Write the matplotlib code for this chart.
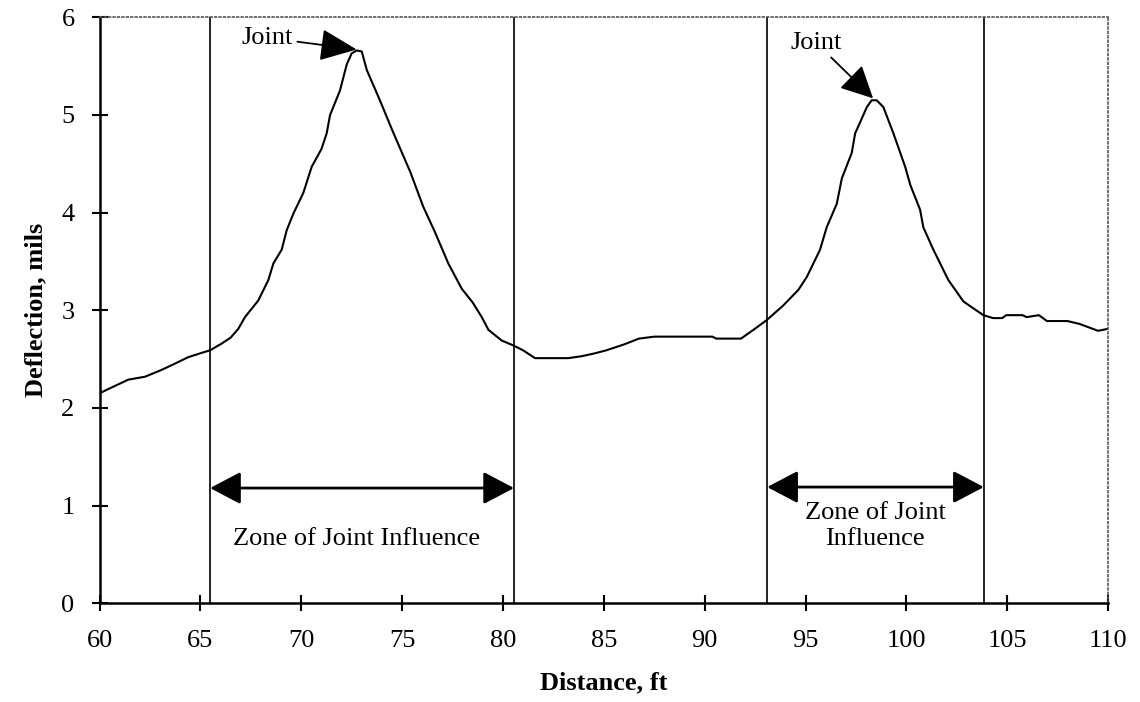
import numpy as np
import matplotlib
matplotlib.use('Agg')
import matplotlib.pyplot as plt

plt.rcParams['font.family'] = ['Liberation Serif', 'DejaVu Serif']

# deflection profile
distance = [60.0, 60.5, 61.43, 62.26, 63.08, 63.7, 64.4, 65.0, 65.48, 66.06,
            66.5, 66.88, 67.21, 67.87, 68.37, 68.62, 69.03, 69.28, 69.61, 70.1,
            70.52, 71.0, 71.26, 71.43, 71.92, 72.26, 72.5, 72.75, 73.0, 73.25,
            73.9, 74.5, 75.23, 75.4, 76.05, 76.63, 77.29, 77.96, 78.5, 78.95,
            79.28, 79.94, 80.52, 81.0, 81.59, 82.4, 83.24, 83.91, 84.57, 85.12,
            86.0, 86.74, 87.5, 88.5, 89.5, 90.38, 90.58, 91.2, 91.8, 92.42,
            93.08, 93.9, 94.65, 95.06, 95.72, 96.05, 96.55, 96.8, 97.29, 97.46,
            98.04, 98.28, 98.53, 98.86, 99.36, 99.94, 100.2, 100.68, 100.84, 101.34,
            102.08, 102.83, 103.32, 103.82, 104.3, 104.75, 104.95, 105.76, 105.96, 106.57,
            106.97, 107.98, 108.59, 109.5, 110.0]
deflection = [2.15, 2.2, 2.29, 2.32, 2.39, 2.45, 2.52, 2.56, 2.59, 2.66,
              2.72, 2.81, 2.93, 3.10, 3.31, 3.48, 3.62, 3.82, 3.99, 4.2,
              4.47, 4.65, 4.81, 5.0, 5.25, 5.52, 5.63, 5.66, 5.65, 5.46,
              5.15, 4.85, 4.50, 4.42, 4.06, 3.80, 3.48, 3.22, 3.08, 2.93,
              2.80, 2.69, 2.64, 2.59, 2.51, 2.51, 2.51, 2.53, 2.56, 2.59,
              2.65, 2.71, 2.73, 2.73, 2.73, 2.73, 2.71, 2.71, 2.71, 2.80,
              2.90, 3.05, 3.21, 3.34, 3.62, 3.85, 4.09, 4.35, 4.61, 4.81,
              5.08, 5.15, 5.15, 5.08, 4.81, 4.47, 4.28, 4.03, 3.85, 3.62,
              3.31, 3.09, 3.02, 2.95, 2.92, 2.92, 2.95, 2.95, 2.93, 2.95,
              2.89, 2.89, 2.86, 2.79, 2.81]

# joint influence zone boundaries
zone_starts = [65.48, 93.1]
zone_ends = [80.55, 103.84]
zone_labels = ['Zone of Joint Influence', 'Zone of Joint\nInfluence']

# joint peaks (arrow tips)
joint_x = [72.75, 98.35]
joint_y = [5.67, 5.17]

fig = plt.figure(figsize=(11.4, 7.02), dpi=100)
ax = fig.add_axes([0.0873, 0.1406, 0.8847, 0.8348])

ax.plot(distance, deflection, color='black', lw=1.5)

for xs, xe in zip(zone_starts, zone_ends):
    ax.axvline(xs, color='black', lw=1.2)
    ax.axvline(xe, color='black', lw=1.2)

# double arrows for the zones
ax.annotate('', xy=(zone_ends[0], 1.18), xytext=(zone_starts[0], 1.18),
            arrowprops=dict(arrowstyle='<|-|>,head_length=19,head_width=10',
                            mutation_scale=1, color='black', lw=2,
                            shrinkA=0, shrinkB=0))
ax.annotate('', xy=(zone_ends[1], 1.19), xytext=(zone_starts[1], 1.19),
            arrowprops=dict(arrowstyle='<|-|>,head_length=19,head_width=10',
                            mutation_scale=1, color='black', lw=2,
                            shrinkA=0, shrinkB=0))
ax.text(72.72, 0.66, zone_labels[0], ha='center', va='center', fontsize=19)
ax.text(98.45, 0.79, zone_labels[1], ha='center', va='center', fontsize=19,
        linespacing=1.25)

# joint arrows
ax.annotate('Joint', xy=(joint_x[0], joint_y[0]), xytext=(68.33, 5.79),
            ha='center', va='center', fontsize=19,
            arrowprops=dict(arrowstyle='-|>,head_length=23,head_width=10',
                            mutation_scale=1, color='black', lw=1.3,
                            shrinkA=1, shrinkB=0))
ax.annotate('Joint', xy=(joint_x[1], joint_y[1]), xytext=(95.52, 5.74),
            ha='center', va='center', fontsize=19,
            arrowprops=dict(arrowstyle='-|>,head_length=20,head_width=10',
                            mutation_scale=1, color='black', lw=1.3,
                            shrinkA=1, shrinkB=0))

ax.set_xlim(60, 110)
ax.set_ylim(0, 6)
ax.set_xticks(np.arange(60, 111, 5))
ax.set_yticks(np.arange(0, 7, 1))
ax.tick_params(direction='inout', length=12, width=1.5, labelsize=19)
ax.tick_params(axis='y', pad=12)
ax.tick_params(axis='x', pad=13)

ax.spines['left'].set_linewidth(1.8)
ax.spines['bottom'].set_linewidth(1.8)
for s in ['top', 'right']:
    ax.spines[s].set_linestyle(':')
    ax.spines[s].set_color('#555555')
    ax.spines[s].set_linewidth(1.2)

ax.set_xlabel('Distance, ft', fontsize=19, fontweight='bold', labelpad=14)
ax.set_ylabel('Deflection, mils', fontsize=19, fontweight='bold', labelpad=10)

fig.savefig('out.png', dpi=100)
